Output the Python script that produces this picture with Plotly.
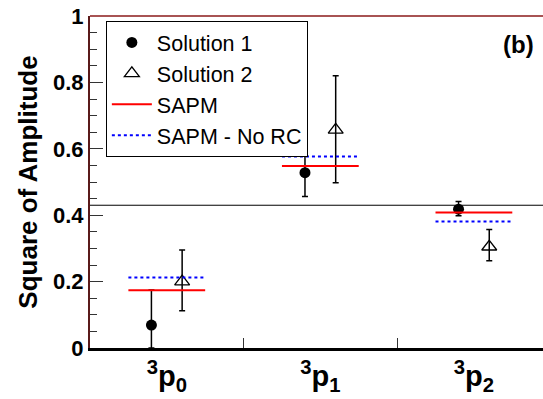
import plotly.graph_objects as go

# ---- data ----
categories = ["<sup>3</sup>p<sub>0</sub>", "<sup>3</sup>p<sub>1</sub>", "<sup>3</sup>p<sub>2</sub>"]
sol1_val = [0.069, 0.528, 0.418]
sol1_err_plus = [0.106, 0.068, 0.023]
sol1_err_minus = [0.069, 0.072, 0.020]
sol2_val = [0.200, 0.657, 0.305]
sol2_err_plus = [0.095, 0.163, 0.052]
sol2_err_minus = [0.088, 0.159, 0.042]
sapm_val = [0.174, 0.548, 0.408]
sapm_norc_val = [0.212, 0.577, 0.381]
ref_line = 0.43
y_ticks = [0, 0.2, 0.4, 0.6, 0.8, 1.0]
y_ticktext = ["0", "0.2", "0.4", "0.6", "0.8", "1"]

n = len(categories)
centers = [i + 0.5 for i in range(n)]
x_sol1 = [c - 0.1 for c in centers]
x_sol2 = [c + 0.1 for c in centers]

def segs(vals, half=0.25):
    xs, ys = [], []
    for c, v in zip(centers, vals):
        xs += [c - half, c + half, None]
        ys += [v, v, None]
    return xs, ys

FONT = "Liberation Sans, Arial, sans-serif"
fig = go.Figure()

fig.add_trace(go.Scatter(
    x=x_sol1, y=sol1_val, mode="markers", name="Solution 1",
    marker=dict(symbol="circle", size=11, color="black"),
    error_y=dict(type="data", symmetric=False, array=sol1_err_plus,
                 arrayminus=sol1_err_minus, color="black", thickness=1.5, width=3),
))
fig.add_trace(go.Scatter(
    x=x_sol2, y=sol2_val, mode="markers", name="Solution 2",
    marker=dict(symbol="triangle-up-open", size=13, color="black", line=dict(width=1.3)),
    error_y=dict(type="data", symmetric=False, array=sol2_err_plus,
                 arrayminus=sol2_err_minus, color="black", thickness=1.5, width=3),
))
xs, ys = segs(sapm_val)
fig.add_trace(go.Scatter(x=xs, y=ys, mode="lines", name="SAPM",
                         line=dict(color="red", width=2)))
xs, ys = segs(sapm_norc_val)
fig.add_trace(go.Scatter(x=xs, y=ys, mode="lines", name="SAPM - No RC",
                         line=dict(color="blue", width=2, dash="dot")))

fig.add_shape(type="line", xref="paper", yref="y", x0=0, x1=1, y0=ref_line, y1=ref_line,
              line=dict(color="black", width=1))
fig.add_shape(type="line", xref="paper", yref="paper", x0=0, x1=1, y0=1, y1=1,
              line=dict(color="#8b1a1a", width=1.5))

fig.add_annotation(text="(b)", xref="paper", yref="paper", x=0.985, y=0.915,
                   xanchor="right", yanchor="middle", showarrow=False,
                   font=dict(family=FONT, size=24, color="black", weight="bold"))

fig.update_layout(
    width=543, height=399,
    margin=dict(l=90, r=0, t=16, b=51, autoexpand=False),
    paper_bgcolor="white", plot_bgcolor="white",
    font=dict(family=FONT, color="black"),
    showlegend=True,
    legend=dict(x=0.035, y=0.985, xanchor="left", yanchor="top",
                bordercolor="black", borderwidth=1, bgcolor="white",
                font=dict(family=FONT, size=21.5), itemwidth=40,
                tracegroupgap=0),
    xaxis=dict(range=[0, 2.95], tickvals=centers, ticktext=categories,
               ticks="", showgrid=False, zeroline=False, automargin=False,
               tickfont=dict(family=FONT, size=29, color="black", weight="bold"),
               showline=True, linecolor="black", linewidth=3,
               minor=dict(tickvals=[1, 2], ticks="inside", ticklen=10,
                          tickcolor="#333", tickwidth=1, showgrid=False)),
    yaxis=dict(range=[0, 1], tickvals=y_ticks, ticktext=y_ticktext,
               ticks="inside", ticklen=13, tickcolor="#333", tickwidth=1,
               showgrid=False, zeroline=False, automargin=False,
               tickfont=dict(family=FONT, size=22, color="black", weight="bold"),
               showline=True, linecolor="#5a1a1a", linewidth=2,
               title=dict(text="Square of Amplitude",
                          font=dict(family=FONT, size=26, color="black", weight="bold"),
                          standoff=8),
               minor=dict(dtick=0.05, ticks="inside", ticklen=7,
                          tickcolor="#333", tickwidth=1, showgrid=False)),
)

fig.write_html("out.html", config={"displayModeBar": False},
               post_script="document.body.style.margin='0px';document.body.style.overflow='hidden';")
